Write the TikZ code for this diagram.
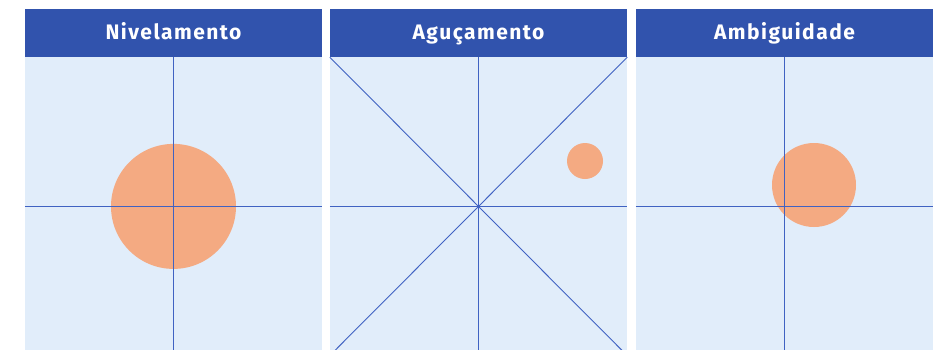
\documentclass[tikz,border=0pt]{standalone}
\usepackage{fontspec}
\setsansfont{Fira Sans}
\usetikzlibrary{positioning}
\definecolor{hdr}{HTML}{3153AD}
\definecolor{pane}{HTML}{E1EDFA}
\definecolor{axis}{HTML}{4062C2}
\definecolor{blob}{HTML}{F4AA82}
\tikzset{
  head/.style={fill=hdr,text=white,minimum width=297pt,minimum height=48pt,inner sep=0pt,
    text height=15pt,text depth=3pt,
    font=\sffamily\bfseries\fontsize{21}{24}\selectfont\addfontfeatures{LetterSpace=7}},
  body/.style={fill=pane,minimum width=297pt,minimum height=298pt,inner sep=0pt},
  ax/.style={draw=axis,line width=0.9pt},
  dot/.style={circle,fill=blob,inner sep=0pt},
}

\begin{document}
\begin{tikzpicture}[x=1pt,y=-1pt]
\clip (0,0) rectangle (940,349);
\fill[white] (0,0) rectangle (940,349);
% headers and panes
\node[head] (h1) at (173.5,33) {Nivelamento};
\node[head] (h2) at (478.5,33) {Aguçamento};
\node[head] (h3) at (784.5,33) {Ambiguidade};
\node[body,below=0pt of h1] (b1) {};
\node[body,below=0pt of h2] (b2) {};
\node[body,below=0pt of h3] (b3) {};
% circles
\node[dot,minimum size=125pt] (c1) at (b1.center) {};
\node[dot,minimum size=36pt] (c2) at (585,161) {};
\node[dot,minimum size=84pt] (c3) at (814,185) {};
% axes
\draw[ax] (b1.north) -- (b1.south);
\draw[ax] (b1.west) -- (b1.east);
\draw[ax] (b2.north) -- (b2.south);
\draw[ax] (b2.west) -- (b2.east);
\draw[ax] (b2.north west) -- (b2.south east);
\draw[ax] (b2.north east) -- (b2.south west);
\draw[ax] (b3.north) -- (b3.south);
\draw[ax] (b3.west) -- (b3.east);
\end{tikzpicture}
\end{document}
